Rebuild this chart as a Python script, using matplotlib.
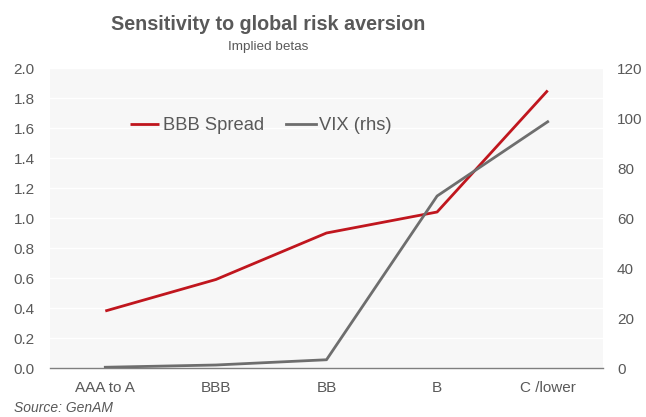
import matplotlib
matplotlib.use("Agg")
import matplotlib.pyplot as plt

categories = ["AAA to A", "BBB", "BB", "B", "C /lower"]
bbb_spread = [0.38, 0.59, 0.90, 1.04, 1.85]
vix_rhs = [0.3, 1.2, 3.3, 68.8, 98.5]
left_ticks = [0.0, 0.2, 0.4, 0.6, 0.8, 1.0, 1.2, 1.4, 1.6, 1.8, 2.0]
right_ticks = [0, 20, 40, 60, 80, 100, 120]

plt.rcParams['font.family'] = ['Liberation Sans', 'DejaVu Sans']
TXT = '#595959'
RED = '#C0161E'
GRAY = '#6E6E6E'

W, H = 646, 417
fig = plt.figure(figsize=(W / 100, H / 100), dpi=100)
ax = fig.add_axes([50 / W, (H - 368) / H, (603 - 50) / W, 300 / H])
ax.set_facecolor('#F7F7F7')
x = list(range(len(categories)))

l1, = ax.plot(x, bbb_spread, color=RED, lw=2.0, label='BBB Spread', zorder=3, solid_capstyle='butt')
ax.set_xlim(-0.5, len(categories) - 0.5)
ax.set_ylim(0, 2.0)
ax.set_yticks(left_ticks)
ax.set_yticklabels([f"{v:.1f}" for v in left_ticks])
ax.set_xticks(x)
ax.set_xticklabels(categories)
ax.grid(axis='y', color='white', lw=1.0)
ax.set_axisbelow(True)
for s in ['left', 'right', 'top']:
    ax.spines[s].set_visible(False)
ax.spines['bottom'].set_color('#7F7F7F')
ax.spines['bottom'].set_linewidth(1.0)
ax.tick_params(axis='both', length=0, colors=TXT, labelsize=11, pad=9)
ax.tick_params(axis='y', pad=11)

ax2 = ax.twinx()
l2, = ax2.plot(x, vix_rhs, color=GRAY, lw=2.0, label='VIX (rhs)', zorder=3)
ax2.set_ylim(0, 120)
ax2.set_yticks(right_ticks)
for s in ['left', 'right', 'top', 'bottom']:
    ax2.spines[s].set_visible(False)
ax2.tick_params(axis='y', length=0, colors=TXT, labelsize=11, pad=10)

leg = ax.legend(handles=[l1, l2], loc='center', bbox_to_anchor=((261 - 50) / 553, (368 - 126) / 300),
                ncol=2, frameon=False, fontsize=13.2, handlelength=1.6, handletextpad=0.2,
                columnspacing=1.2, borderaxespad=0)
for t in leg.get_texts():
    t.set_color(TXT)

fig.text(268 / W, 1 - 25 / H, "Sensitivity to global risk aversion", ha='center', va='center',
         fontsize=14.2, fontweight='bold', color=TXT)
fig.text(268 / W, 1 - 47 / H, "Implied betas", ha='center', va='center', fontsize=9.7, color=TXT)
fig.text(14 / W, 1 - 408 / H, "Source: GenAM", ha='left', va='center', fontsize=10,
         style='italic', color=TXT)

fig.savefig("out.png", dpi=100)
